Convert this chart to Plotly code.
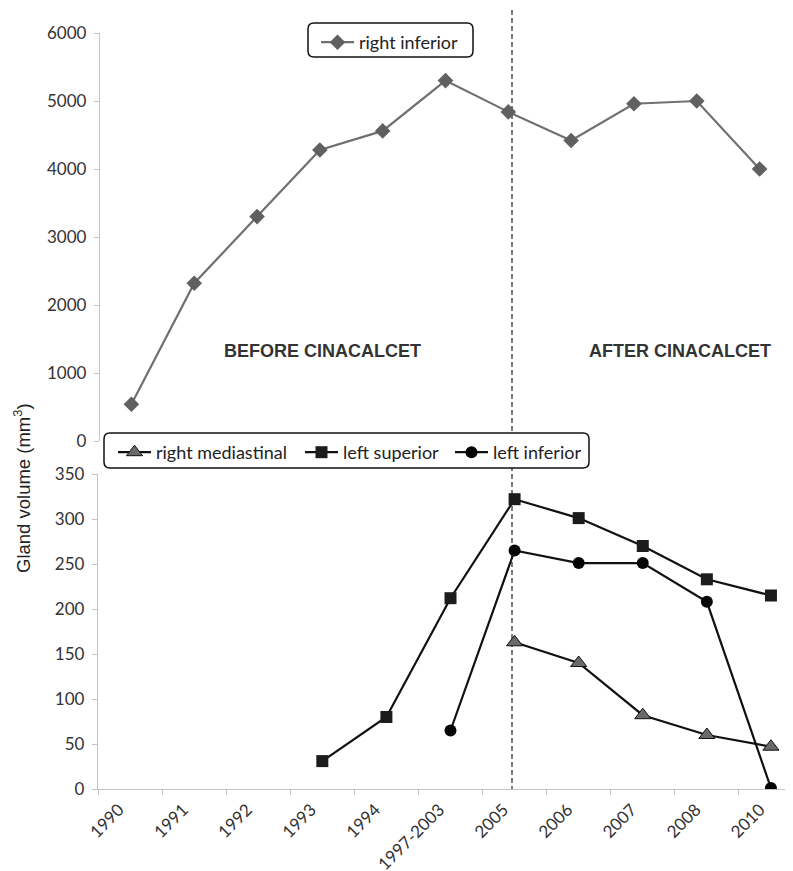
import plotly.graph_objects as go

# The page body has an 8px margin; the figure is sized to fill the rest.
OX, OY = 8, 8
W, H = 793 - OX, 871 - OY

categories = ["1990", "1991", "1992", "1993", "1994", "1997-2003",
              "2005", "2006", "2007", "2008", "2010"]
right_inferior = [540, 2320, 3300, 4280, 4560, 5300, 4840, 4420, 4960, 5000, 4000]
right_mediastinal = [None, None, None, None, None, None, 163, 140, 82, 60, 47]
left_superior = [None, None, None, 31, 80, 212, 322, 301, 270, 233, 215]
left_inferior = [None, None, None, None, None, 65, 265, 251, 251, 208, 1]
top_yticks = [0, 1000, 2000, 3000, 4000, 5000, 6000]
bottom_yticks = [0, 50, 100, 150, 200, 250, 300, 350]


def px(x):
    return (x - OX) / W


def py(y):
    return 1 - (y - OY) / H


def rounded_rect(x0, y0, x1, y1, r=6):
    pts = [
        f"M {px(x0 + r)},{py(y0)}",
        f"L {px(x1 - r)},{py(y0)}",
        f"Q {px(x1)},{py(y0)} {px(x1)},{py(y0 + r)}",
        f"L {px(x1)},{py(y1 - r)}",
        f"Q {px(x1)},{py(y1)} {px(x1 - r)},{py(y1)}",
        f"L {px(x0 + r)},{py(y1)}",
        f"Q {px(x0)},{py(y1)} {px(x0)},{py(y1 - r)}",
        f"L {px(x0)},{py(y0 + r)}",
        f"Q {px(x0)},{py(y0)} {px(x0 + r)},{py(y0)}",
        "Z",
    ]
    return " ".join(pts)


FAM = "Lato, Noto Sans, sans-serif"
TICKFONT = dict(family=FAM, size=17, color="#333333")
LEGFONT = dict(family=FAM, size=18, color="#222222")
AXCOL = "#c4c4c4"

fig = go.Figure()

fig.add_trace(go.Scatter(
    x=categories, y=right_inferior, name="right inferior", mode="lines+markers",
    line=dict(color="#707070", width=2.2),
    marker=dict(symbol="diamond", size=12, color="#606060"),
    xaxis="x", yaxis="y", legend="legend",
))
fig.add_trace(go.Scatter(
    x=categories, y=right_mediastinal, name="right mediastinal", mode="lines+markers",
    line=dict(color="#111111", width=2.2),
    marker=dict(symbol="triangle-up", size=14, color="#6a6a6a",
                line=dict(color="#111111", width=1)),
    xaxis="x2", yaxis="y2", legend="legend2",
))
fig.add_trace(go.Scatter(
    x=categories, y=left_superior, name="left superior", mode="lines+markers",
    line=dict(color="#111111", width=2.2),
    marker=dict(symbol="square", size=12, color="#1c1c1c"),
    xaxis="x2", yaxis="y2", legend="legend3",
))
fig.add_trace(go.Scatter(
    x=categories, y=left_inferior, name="left inferior", mode="lines+markers",
    line=dict(color="#111111", width=2.2),
    marker=dict(symbol="circle", size=12, color="#050505"),
    xaxis="x2", yaxis="y2", legend="legend4",
))

shapes = [
    dict(type="path", xref="paper", yref="paper", path=rounded_rect(308, 23, 473, 57),
         line=dict(color="#111111", width=1.5), fillcolor="white", layer="above"),
    dict(type="path", xref="paper", yref="paper", path=rounded_rect(104, 433, 589, 468),
         line=dict(color="#111111", width=1.5), fillcolor="white", layer="above"),
    dict(type="line", xref="paper", yref="paper", x0=px(512), x1=px(512),
         y0=py(10), y1=py(789), line=dict(color="#333333", width=1.3, dash="5px,3px"),
         layer="below"),
]

BOLD = dict(family="Liberation Sans, Arial", size=18, color="#333333")
annotations = [
    dict(text="<b>BEFORE CINACALCET</b>", x=px(322), y=py(351), xref="paper", yref="paper",
         xanchor="center", yanchor="middle", showarrow=False, font=BOLD),
    dict(text="<b>AFTER CINACALCET</b>", x=px(680), y=py(351), xref="paper", yref="paper",
         xanchor="center", yanchor="middle", showarrow=False, font=BOLD),
    dict(text="Gland volume (mm<sup>3</sup>)", x=px(22), y=py(488), xref="paper", yref="paper",
         xanchor="center", yanchor="middle", textangle=-90, showarrow=False,
         font=dict(family="Liberation Sans, Arial", size=18.5, color="#222222")),
]


def leg(x, y):
    return dict(x=px(x), y=py(y), xanchor="left", yanchor="top", itemwidth=33,
                bgcolor="rgba(0,0,0,0)", borderwidth=0, font=LEGFONT)


fig.update_layout(
    width=W, height=H, margin=dict(l=0, r=0, t=0, b=0),
    template="none", paper_bgcolor="white", plot_bgcolor="rgba(0,0,0,0)",
    showlegend=True,
    xaxis=dict(domain=[px(100), px(791)], type="category", categoryorder="array",
               categoryarray=categories, range=[-0.5, 10.5], showline=False,
               showticklabels=False, ticks="", showgrid=False, zeroline=False,
               anchor="y", automargin=False),
    yaxis=dict(domain=[py(441), py(33)], range=[0, 6000], tickvals=top_yticks,
               showline=True, linecolor=AXCOL, linewidth=1.3, ticks="outside",
               tickcolor=AXCOL, ticklen=5, showgrid=False, zeroline=False,
               ticklabelstandoff=4,
               tickfont=TICKFONT, anchor="x", automargin=False),
    xaxis2=dict(domain=[px(98), 1.0], type="category", categoryorder="array",
                categoryarray=categories, range=[-0.5, 10.344], showline=True,
                linecolor=AXCOL, linewidth=1.3, ticks="outside", tickson="boundaries",
                tickcolor=AXCOL, ticklen=5, tickangle=-45, showgrid=False,
                ticklabelstandoff=3, ticklabelshift=-11,
                zeroline=False, tickfont=TICKFONT, anchor="y2", automargin=False),
    yaxis2=dict(domain=[py(789), py(474)], range=[0, 350], tickvals=bottom_yticks,
                showline=True, linecolor=AXCOL, linewidth=1.3, ticks="outside",
                tickcolor=AXCOL, ticklen=5, showgrid=False, zeroline=False,
                ticklabelstandoff=4,
                tickfont=TICKFONT, anchor="x2", automargin=False),
    legend=leg(316, 24),
    legend2=leg(113, 434),
    legend3=leg(300, 434),
    legend4=leg(450, 434),
    shapes=shapes,
    annotations=annotations,
)

fig.write_html("out.html")
